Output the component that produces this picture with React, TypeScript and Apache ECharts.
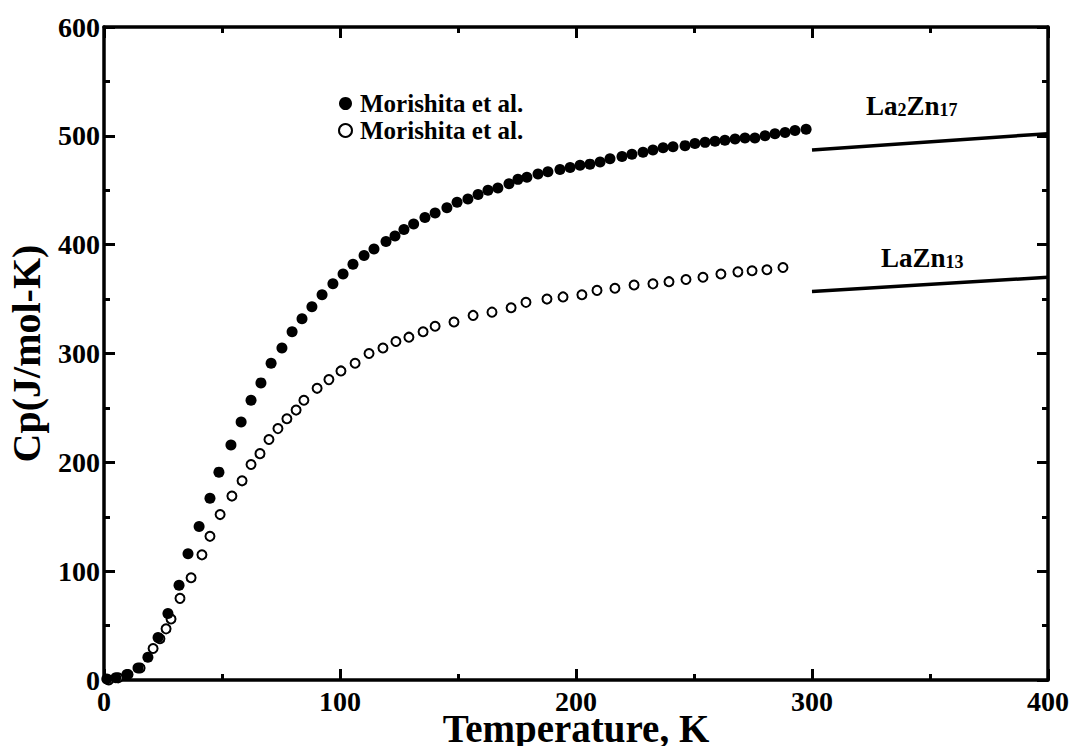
import React, { useEffect, useRef } from "react";
import * as echarts from "echarts";

// Heat capacity measurements, (T [K], Cp [J/mol-K])
const la2zn17Points: [number, number][] = [
  [1.2, 1], [5, 2], [9.7, 5], [14.4, 11], [18.6, 21], [22.9, 39], [27.1, 61],
  [31.8, 87], [35.6, 116], [40.3, 141], [44.9, 167], [48.7, 191], [53.8, 216],
  [58.1, 237], [62.3, 257], [66.5, 273], [70.8, 291], [75.4, 305], [79.7, 320],
  [83.9, 332], [88.1, 343], [92.4, 354], [97.0, 364], [101.3, 373], [105.5, 382],
  [110.2, 390], [114.4, 396], [119.5, 403], [123.3, 408], [127.1, 414],
  [131.2, 419], [136.0, 425], [140.3, 429], [145.3, 434], [149.6, 439],
  [154.2, 442], [158.5, 446], [162.7, 450], [166.9, 452], [171.6, 456],
  [175.4, 460], [179.2, 462], [183.9, 465], [188.1, 467], [193.2, 469],
  [197.5, 471], [201.7, 473], [205.9, 474], [210.2, 476], [214.4, 479],
  [219.5, 481], [223.7, 483], [228.4, 485], [232.6, 487], [236.9, 489],
  [241.1, 490], [246.2, 491], [250.4, 493], [254.7, 494], [258.9, 495],
  [263.1, 496], [267.4, 497], [271.6, 498], [275.8, 498], [280.1, 500],
  [284.3, 502], [288.6, 503], [292.8, 505], [297.5, 506],
];

const lazn13Points: [number, number][] = [
  [2, 0], [6, 2], [10.2, 5], [15.3, 11], [20.8, 29], [23.7, 38], [26.3, 47],
  [28.4, 56], [32.2, 75], [36.9, 94], [41.5, 115], [44.9, 132], [49.2, 152],
  [54.2, 169], [58.5, 183], [62.3, 198], [66.1, 208], [69.9, 221], [73.7, 231],
  [77.5, 240], [81.4, 248], [84.7, 257], [90.3, 268], [95.3, 276], [100.4, 284],
  [106.4, 291], [112.3, 300], [118.2, 305], [123.7, 311], [129.2, 315],
  [135.2, 320], [140.3, 325], [148.3, 329], [156.4, 335], [164.4, 338],
  [172.5, 342], [178.8, 347], [187.7, 350], [194.5, 352], [202.5, 354],
  [208.9, 358], [216.5, 360], [224.6, 363], [232.6, 364], [239.4, 366],
  [246.6, 368], [253.8, 370], [261.4, 373], [268.6, 375], [274.6, 376],
  [280.9, 377], [287.7, 379],
];

// Calculated high-temperature trends
const la2zn17Trend: [number, number][] = [[300, 487], [400, 502]];
const lazn13Trend: [number, number][] = [[300, 357], [400, 370]];

const xTicks = [0, 100, 200, 300, 400];
const yTicks = [0, 100, 200, 300, 400, 500, 600];
const legendLabel = "Morishita et al.";

const FONT = "'Liberation Serif', 'Times New Roman', serif";

const richLabel = {
  b: { fontFamily: FONT, fontWeight: "bold", fontSize: 27, lineHeight: 27, fill: "#000", verticalAlign: "bottom" },
  s: { fontFamily: FONT, fontWeight: "bold", fontSize: 18, lineHeight: 18, fill: "#000", verticalAlign: "bottom" },
};

export default function App() {
  const ref = useRef<HTMLDivElement>(null);

  useEffect(() => {
    if (!ref.current) return;
    const chart = echarts.init(ref.current, undefined, { renderer: "svg" });

    const axisCommon = {
      type: "value" as const,
      axisLine: { show: true, onZero: false, lineStyle: { color: "#000", width: 3.5 } },
      axisTick: { show: true, inside: true, length: 11, lineStyle: { color: "#000", width: 3 } },
      minorTick: { show: true, splitNumber: 2, length: 6, lineStyle: { color: "#000", width: 3 } },
      splitLine: { show: false },
      minorSplitLine: { show: false },
    };

    const tickLabel = {
      color: "#000",
      fontFamily: FONT,
      fontWeight: "bold" as const,
      fontSize: 28,
      margin: 7,
    };

    chart.setOption({
      animation: false,
      backgroundColor: "#fff",
      grid: { left: 104, right: 29, top: 27, bottom: 74, containLabel: false, outerBoundsMode: "none" },
      xAxis: [
        {
          ...axisCommon,
          min: xTicks[0],
          max: xTicks[xTicks.length - 1],
          interval: 100,
          position: "bottom",
          axisLabel: tickLabel,
          name: "Temperature, K",
          nameLocation: "middle",
          nameGap: 29,
          nameMoveOverlap: false,
          nameTextStyle: { color: "#000", fontFamily: FONT, fontWeight: "bold", fontSize: 39 },
        },
        {
          ...axisCommon,
          min: xTicks[0],
          max: xTicks[xTicks.length - 1],
          interval: 100,
          position: "top",
          axisLabel: { show: false },
        },
      ],
      yAxis: [
        {
          ...axisCommon,
          min: yTicks[0],
          max: yTicks[yTicks.length - 1],
          interval: 100,
          position: "left",
          axisLabel: { ...tickLabel, margin: 4 },
          name: "Cp(J/mol-K)",
          nameLocation: "middle",
          nameGap: 58,
          nameRotate: 90,
          nameTextStyle: { color: "#000", fontFamily: FONT, fontWeight: "bold", fontSize: 40 },
        },
        {
          ...axisCommon,
          min: yTicks[0],
          max: yTicks[yTicks.length - 1],
          interval: 100,
          position: "right",
          axisLabel: { show: false },
        },
      ],
      legend: {
        orient: "vertical",
        left: 333,
        top: 86,
        itemWidth: 13,
        itemHeight: 13,
        itemGap: 2,
        icon: "circle",
        formatter: () => legendLabel,
        textStyle: { color: "#000", fontFamily: FONT, fontWeight: "bold", fontSize: 25, padding: [0, 0, 0, 3] },
        data: ["La2Zn17", "LaZn13"],
      },
      series: [
        {
          name: "La2Zn17",
          type: "scatter",
          data: la2zn17Points,
          symbol: "circle",
          symbolSize: 11,
          itemStyle: { color: "#000", borderColor: "#000", borderWidth: 0, opacity: 1 },
          z: 3,
        },
        {
          name: "LaZn13",
          type: "scatter",
          data: lazn13Points,
          symbol: "circle",
          symbolSize: 9,
          itemStyle: { color: "#fff", borderColor: "#000", borderWidth: 2, opacity: 1 },
          z: 2,
        },
        {
          name: "La2Zn17 trend",
          type: "line",
          data: la2zn17Trend,
          showSymbol: false,
          lineStyle: { color: "#000", width: 3.5 },
          z: 1,
        },
        {
          name: "LaZn13 trend",
          type: "line",
          data: lazn13Trend,
          showSymbol: false,
          lineStyle: { color: "#000", width: 3.5 },
          z: 1,
        },
      ],
      graphic: [
        {
          type: "text",
          left: 866,
          top: 92,
          style: { text: "{b|La}{s|2}{b|Zn}{s|17}", rich: richLabel },
        },
        {
          type: "text",
          left: 881,
          top: 244,
          style: { text: "{b|LaZn}{s|13}", rich: richLabel },
        },
      ],
    });

    return () => chart.dispose();
  }, []);

  return <div ref={ref} style={{ width: 1077, height: 754, margin: -8 }} />;
}
